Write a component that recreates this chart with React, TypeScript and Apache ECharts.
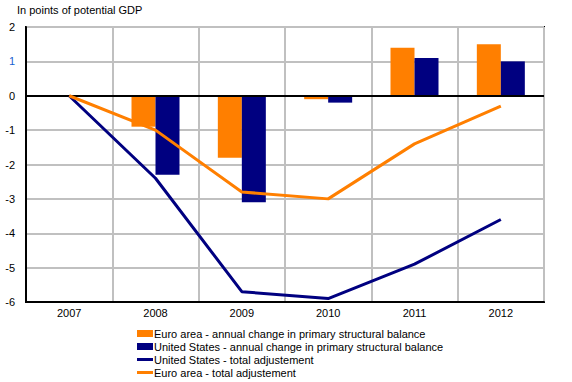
import React, { useEffect, useRef } from "react";
import * as echarts from "echarts";

const years = ["2007", "2008", "2009", "2010", "2011", "2012"];
const euroAnnual = [null, -0.9, -1.8, -0.1, 1.4, 1.5];
const usAnnual = [null, -2.3, -3.1, -0.2, 1.1, 1.0];
const usTotal = [0, -2.4, -5.7, -5.9, -4.9, -3.6];
const euroTotal = [0, -1.0, -2.8, -3.0, -1.4, -0.3];

const FONT = "Arial, 'Liberation Sans', sans-serif";
const ORANGE = "#FF7F00";
const NAVY = "#000080";
const LINE_ICON = "path://M0,0H16V3H0Z";

export default function App() {
  const ref = useRef<HTMLDivElement>(null);
  useEffect(() => {
    if (!ref.current) return;
    document.body.style.margin = "0";
    const chart = echarts.init(ref.current, null, { renderer: "svg" });
    chart.setOption({
      animation: false,
      title: {
        text: "In points of potential GDP",
        left: 17,
        top: 4,
        padding: 0,
        textStyle: { fontFamily: FONT, fontSize: 11, fontWeight: "normal", color: "#000" },
      },
      grid: {
        left: 26,
        right: 28,
        top: 27,
        bottom: 80,
        show: true,
        borderColor: "#000",
        borderWidth: 2,
      },
      legend: {
        orient: "vertical",
        left: 137,
        top: 327,
        padding: 0,
        itemWidth: 16,
        itemHeight: 7,
        itemGap: 0,
        textStyle: { fontFamily: FONT, fontSize: 11, color: "#000", lineHeight: 13, padding: [0, 0, 0, -4] },
        data: [
          { name: "Euro area - annual change in primary structural balance", icon: "rect" },
          { name: "United States - annual change in primary structural balance", icon: "rect" },
          { name: "United States - total adjustement", icon: LINE_ICON },
          { name: "Euro area - total adjustement", icon: LINE_ICON },
        ],
      },
      xAxis: {
        type: "category",
        data: years,
        boundaryGap: true,
        axisLine: { onZero: false, lineStyle: { color: "#000", width: 2 } },
        axisTick: { show: false },
        axisLabel: { fontFamily: FONT, fontSize: 11, color: "#000", margin: 5 },
        splitLine: { show: true, lineStyle: { color: "#c0c0c0", width: 2 } },
      },
      yAxis: {
        type: "value",
        min: -6,
        max: 2,
        interval: 1,
        axisLine: { show: true, lineStyle: { color: "#000", width: 2 } },
        axisTick: { show: false },
        axisLabel: {
          fontFamily: FONT,
          fontSize: 11,
          margin: 11,
          color: (v: any) => (Number(v) === 1 ? "#1a5fd0" : "#000"),
        },
        splitLine: { show: true, lineStyle: { color: "#c0c0c0", width: 2 } },
      },
      series: [
        {
          name: "Euro area - annual change in primary structural balance",
          type: "bar",
          data: euroAnnual,
          barWidth: 24,
          barGap: "0%",
          itemStyle: { color: ORANGE },
          markLine: {
            silent: true,
            symbol: "none",
            label: { show: false },
            lineStyle: { color: "#000", width: 2, type: "solid" },
            data: [{ yAxis: 0 }],
          },
        },
        {
          name: "United States - annual change in primary structural balance",
          type: "bar",
          data: usAnnual,
          barWidth: 24,
          barGap: "0%",
          itemStyle: { color: NAVY },
        },
        {
          name: "United States - total adjustement",
          type: "line",
          data: usTotal,
          symbol: "none",
          lineStyle: { color: NAVY, width: 3 },
          itemStyle: { color: NAVY },
          z: 5,
        },
        {
          name: "Euro area - total adjustement",
          type: "line",
          data: euroTotal,
          symbol: "none",
          lineStyle: { color: ORANGE, width: 3 },
          itemStyle: { color: ORANGE },
          z: 5,
        },
      ],
    });
    return () => chart.dispose();
  }, []);
  return <div ref={ref} style={{ width: 572, height: 382 }} />;
}
